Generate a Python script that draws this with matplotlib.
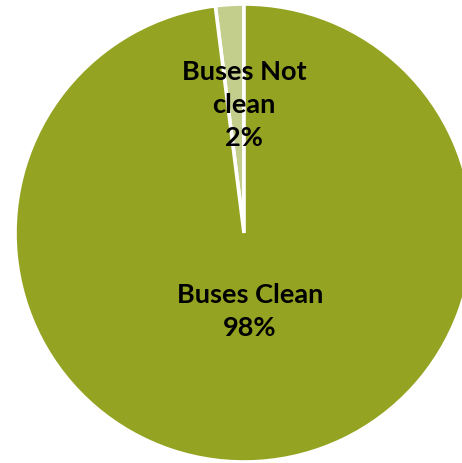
import matplotlib
matplotlib.use("Agg")
import matplotlib.pyplot as plt

categories = ["Buses Not\nclean", "Buses Clean"]
values = [2, 98]
colors = ["#C3CE8D", "#95A323"]

fig = plt.figure(figsize=(4.62, 4.64), dpi=100)
ax = fig.add_axes([0, 0, 1, 1])
R = 229.0
ax.pie(values, colors=colors, startangle=90, counterclock=True, radius=1,
       center=(0, 0), wedgeprops=dict(edgecolor="white", linewidth=2.6))
ax.set_xlim(-244 / R, (462 - 244) / R)
ax.set_ylim(-230 / R, 234 / R)
ax.set_aspect("equal")
ax.axis("off")

label_pos = [(0.0, 0.565), (0.026, -0.34)]
for cat, v, (x, y) in zip(categories, values, label_pos):
    ax.text(x, y, f"{cat}\n{v}%", ha="center", va="center", fontsize=19.5,
            fontweight="bold", family="Lato", linespacing=1.45, color="black")

fig.savefig("out.png", dpi=100)
